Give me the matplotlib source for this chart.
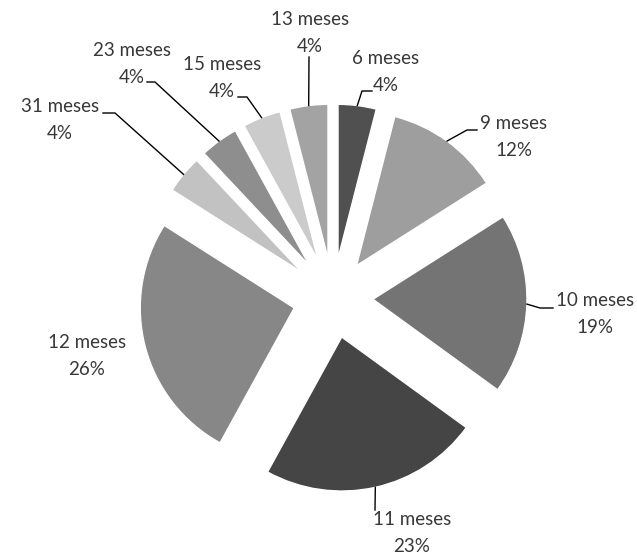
import math
import matplotlib
matplotlib.use("Agg")
import matplotlib.pyplot as plt

# data (clockwise from 12 o'clock)
categorias = ['6 meses', '9 meses', '10 meses', '11 meses', '12 meses',
              '31 meses', '23 meses', '15 meses', '13 meses']
porcentajes = [4, 12, 19, 23, 26, 4, 4, 4, 4]
colores = ['#505050', '#9e9e9e', '#747474', '#454545', '#878787',
           '#c2c2c2', '#8e8e8e', '#cbcbcb', '#a3a3a3']

W, H = 637, 559
cx, cy = 333, 298          # image coords
radio = 154
sep = 40                   # explode distance

# label layout in image coords: text block centre, leader elbow, elbow end
etiquetas = {
    '6 meses':  ((386, 72),  (362, 91),  (372, 91)),
    '9 meses':  ((514, 137), (467, 130), (477, 130)),
    '10 meses': ((595, 314), (540, 308), (553, 308)),
    '11 meses': ((412, 533), (375, 510), None),
    '12 meses': ((87, 356),  None,       None),
    '31 meses': ((60, 120),  (115, 113), (103, 113)),
    '23 meses': ((132, 64),  (155, 82),  (147, 82)),
    '15 meses': ((222, 78),  (247, 97),  (238, 97)),
    '13 meses': ((310, 33),  (309, 57),  None),
}

plt.rcParams['font.family'] = ['Lato', 'DejaVu Sans']

fig = plt.figure(figsize=(W / 100, H / 100), dpi=100)
ax = fig.add_axes([0, 0, 1, 1])

ax.pie(porcentajes, colors=colores, startangle=90, counterclock=False,
       center=(cx, H - cy), radius=radio, explode=[sep] * len(porcentajes),
       wedgeprops=dict(edgecolor='white', linewidth=1), frame=True)
ax.set_xlim(0, W)
ax.set_ylim(0, H)
ax.set_aspect('equal')
ax.axis('off')

total = sum(porcentajes)
ang = 90.0
for cat, p in zip(categorias, porcentajes):
    span = 360.0 * p / total
    mid = math.radians(ang - span / 2)
    ang -= span
    ox = cx + (sep + radio) * math.cos(mid)
    oy = cy - (sep + radio) * math.sin(mid)
    (tx, ty), codo, fin = etiquetas[cat]
    if codo is not None:
        xs = [ox, codo[0]]
        ys = [oy, codo[1]]
        if fin is not None:
            xs.append(fin[0])
            ys.append(fin[1])
        ax.plot(xs, [H - y for y in ys], color='black', lw=1)
    ax.text(tx, H - ty, f'{cat}\n{p}%', ha='center', va='center',
            fontsize=13.5, color='#383838', linespacing=1.65)

fig.savefig('out.png', dpi=100)
